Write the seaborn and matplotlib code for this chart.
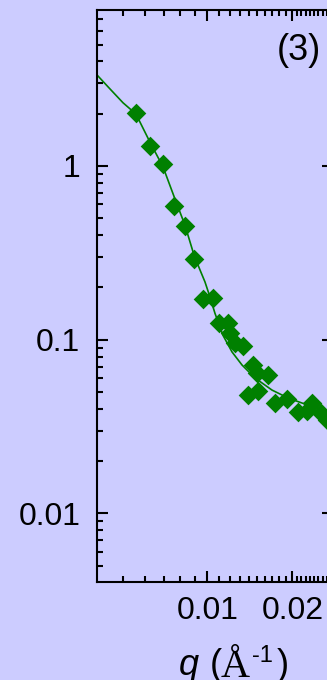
import matplotlib
matplotlib.use("Agg")
import matplotlib.pyplot as plt
from matplotlib.ticker import FixedLocator, FixedFormatter, NullFormatter, LogLocator
import seaborn as sns
import pandas as pd

# Measured intensities (green diamonds)
q_data = [0.00558, 0.00625, 0.00696, 0.00763, 0.00832, 0.00898, 0.00966,
          0.01048, 0.01101, 0.01185, 0.01202, 0.01252, 0.01340, 0.01453,
          0.01495, 0.01635, 0.01395, 0.01514, 0.01735, 0.01909, 0.02099,
          0.02248, 0.02342, 0.02526, 0.02653]
i_data = [2.02, 1.30, 1.03, 0.588, 0.452, 0.293, 0.171,
          0.173, 0.124, 0.125, 0.109, 0.0954, 0.0920, 0.0715,
          0.0640, 0.0626, 0.0480, 0.0507, 0.0434, 0.0454, 0.0385,
          0.0390, 0.0430, 0.0377, 0.0345]

# Fitted curve
q_fit = [0.00406, 0.00451, 0.00502, 0.00558, 0.00625, 0.00696, 0.00767,
         0.00832, 0.00896, 0.00941, 0.00980, 0.01021, 0.01063, 0.01135,
         0.01222, 0.01326, 0.01474, 0.01693, 0.01930, 0.02163, 0.02653,
         0.02786]
i_fit = [3.34, 2.78, 2.31, 1.99, 1.375, 0.987, 0.646,
         0.457, 0.307, 0.252, 0.215, 0.176, 0.142, 0.106,
         0.085, 0.0715, 0.0602, 0.0513, 0.0462, 0.0432, 0.0389,
         0.0378]

x_major = [0.01, 0.02]
x_major_labels = ["0.01", "0.02"]
x_minor = [0.005, 0.006, 0.007, 0.008, 0.009,
           0.011, 0.012, 0.013, 0.014, 0.015, 0.016, 0.017, 0.018, 0.019,
           0.0207, 0.0215, 0.0223, 0.0231, 0.0239, 0.0247, 0.0256, 0.0265,
           0.0274]
y_major = [0.01, 0.1, 1]
y_major_labels = ["0.01", "0.1", "1"]
panel_tag = "(3)"

BG = "#ccccff"
GREEN = "#008000"
W, H = 327, 680

plt.rcParams["font.family"] = ["Liberation Sans", "DejaVu Sans"]

fig = plt.figure(figsize=(W / 100, H / 100), dpi=100, facecolor=BG)
ax = fig.add_axes([97 / W, 98 / H, 236 / W, 572 / H])
ax.set_facecolor(BG)

pts = pd.DataFrame({"q": q_data, "I": i_data})
fit = pd.DataFrame({"q": q_fit, "I": i_fit})

sns.lineplot(data=fit, x="q", y="I", ax=ax, color=GREEN, linewidth=1.2,
             estimator=None, sort=False)
sns.scatterplot(data=pts, x="q", y="I", ax=ax, marker="D", s=100,
                color=GREEN, linewidth=0, zorder=3)

ax.set_xscale("log")
ax.set_yscale("log")
ax.set_xlim(0.00406, 0.02786)
ax.set_ylim(0.00403, 7.9)

ax.xaxis.set_major_locator(FixedLocator(x_major))
ax.xaxis.set_major_formatter(FixedFormatter(x_major_labels))
ax.xaxis.set_minor_locator(FixedLocator(x_minor))
ax.xaxis.set_minor_formatter(NullFormatter())
ax.yaxis.set_major_locator(FixedLocator(y_major))
ax.yaxis.set_major_formatter(FixedFormatter(y_major_labels))
ax.yaxis.set_minor_locator(LogLocator(base=10, subs=range(2, 10)))
ax.yaxis.set_minor_formatter(NullFormatter())

ax.set_xlabel("")
ax.set_ylabel("")

for sp in ax.spines.values():
    sp.set_linewidth(1.5)
    sp.set_color("black")

ax.tick_params(which="both", direction="in", top=True, right=True,
               width=1.5, color="black")
ax.tick_params(which="major", length=8, labelsize=23)
ax.tick_params(which="minor", length=4)
ax.tick_params(axis="y", which="major", pad=12)
ax.tick_params(axis="x", which="major", pad=10)


def at(x, y):
    return x / W, 1 - y / H


fig.text(*at(277, 60), panel_tag, fontsize=26, ha="left", va="baseline",
         family="Liberation Sans")

# Axis title: q (Å^-1)
fig.text(*at(179, 675), "q", fontsize=26, style="italic", ha="left",
         va="baseline", family="Liberation Sans")
fig.text(*at(210, 675), "(", fontsize=26, ha="left", va="baseline",
         family="Liberation Sans")
fig.text(*at(221, 677), "Å", fontsize=29, ha="left", va="baseline",
         family="Liberation Serif")
fig.text(*at(252, 662), "-1", fontsize=17, ha="left", va="baseline",
         family="Liberation Sans")
fig.text(*at(277, 675), ")", fontsize=26, ha="left", va="baseline",
         family="Liberation Sans")

fig.savefig("out.png", dpi=100, facecolor=BG)
